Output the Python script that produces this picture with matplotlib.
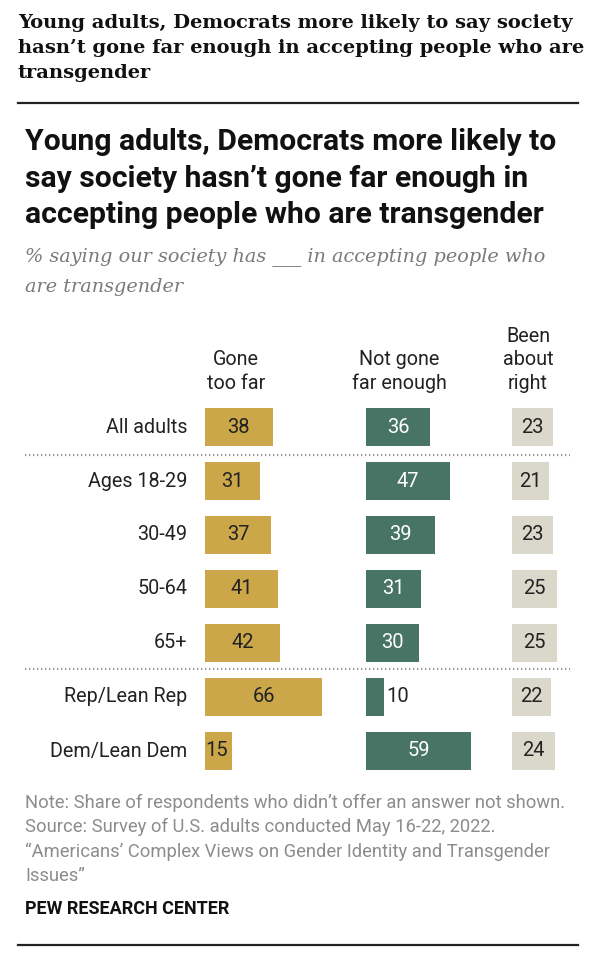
import matplotlib.pyplot as plt
from matplotlib.lines import Line2D

# data
groups = ['All adults', 'Ages 18-29', '30-49', '50-64', '65+', 'Rep/Lean Rep', 'Dem/Lean Dem']
gone_too_far = [38, 31, 37, 41, 42, 66, 15]
not_far_enough = [36, 47, 39, 31, 30, 10, 59]
about_right = [23, 21, 23, 25, 25, 22, 24]
headers = ['Gone\ntoo far', 'Not gone\nfar enough', 'Been\nabout\nright']

W, H = 593, 960
GOLD = '#CBA74A'
GREEN = '#477464'
GRAY = '#DAD8CB'
SANS = 'Roboto'


def fx(x):
    return x / W


def fy(y):
    return 1 - y / H


fig = plt.figure(figsize=(W / 100, H / 100), dpi=100)
fig.patch.set_facecolor('white')

# outer headline
fig.text(fx(18), fy(14), "Young adults, Democrats more likely to say society\n"
         "hasn\u2019t gone far enough in accepting people who are\ntransgender",
         fontsize=14, fontweight='bold', family='DejaVu Serif', va='top', ha='left',
         linespacing=1.5, color='#111111')
fig.add_artist(Line2D([fx(18), fx(578)], [fy(103), fy(103)], color='#222222', lw=1.6))

# chart title and subtitle
fig.text(fx(25), fy(128), "Young adults, Democrats more likely to\n"
         "say society hasn\u2019t gone far enough in\naccepting people who are transgender",
         fontsize=21.7, fontweight='bold', family=SANS, va='top', ha='left',
         linespacing=1.39, color='#111111')
fig.text(fx(25), fy(247), "% saying our society has ___ in accepting people who\nare transgender",
         fontsize=13.9, style='italic', family='DejaVu Serif', va='top', ha='left',
         linespacing=1.86, color='#7a7a7a')

# column axes
row_h = 54
top = 427 - row_h / 2
bottom = top + row_h * len(groups)
px_per_unit = 1.78
cols = [
    (205, 150, gone_too_far, GOLD, '#222222'),
    (366, 140, not_far_enough, GREEN, 'white'),
    (512, 60, about_right, GRAY, '#222222'),
]
ypos = list(range(len(groups)))
axes = []
for left, width, vals, color, tcolor in cols:
    ax = fig.add_axes([fx(left), fy(bottom), width / W, (bottom - top) / H])
    ax.barh(ypos, vals, height=0.70, color=color, left=0)
    ax.set_xlim(0, width / px_per_unit)
    ax.set_ylim(len(groups) - 0.5, -0.5)
    ax.axis('off')
    for i, v in enumerate(vals):
        if v < 12:
            ax.text(v + 1.5, i, str(v), ha='left', va='center', fontsize=14.5,
                    family=SANS, color='#222222')
        elif v < 20:
            ax.text(0, i, str(v), ha='left', va='center', fontsize=14.5,
                    family=SANS, color=tcolor)
        else:
            ax.text(v / 2, i, str(v), ha='center', va='center', fontsize=14.5,
                    family=SANS, color=tcolor)
    axes.append(ax)

# row labels
for i, g in enumerate(groups):
    axes[0].text(-10, i, g, ha='right', va='center', fontsize=14.2, family=SANS,
                 color='#222222')

# column headers
for (xc, yb), txt in zip([(236, 393), (399, 393), (528, 393)], headers):
    fig.text(fx(xc), fy(yb), txt, ha='center', va='bottom', fontsize=14.2, family=SANS,
             linespacing=1.31, color='#222222')

# dotted separators
for y in (455, 669):
    fig.add_artist(Line2D([fx(25), fx(570)], [fy(y), fy(y)], color='#9a9a9a', lw=1.6,
                          linestyle=(0, (0.6, 1.2))))

# notes
fig.text(fx(25), fy(794), "Note: Share of respondents who didn\u2019t offer an answer not shown.\n"
         "Source: Survey of U.S. adults conducted May 16-22, 2022.\n"
         "\u201cAmericans\u2019 Complex Views on Gender Identity and Transgender\nIssues\u201d",
         fontsize=13.2, family=SANS, va='top', ha='left', linespacing=1.43, color='#8c8c8c')
fig.text(fx(25), fy(909), "PEW RESEARCH CENTER", fontsize=13, fontweight='bold',
         family=SANS, va='center', ha='left', color='#111111')
fig.add_artist(Line2D([fx(18), fx(578)], [fy(945), fy(945)], color='#222222', lw=1.6))

fig.savefig('out.png', dpi=100, facecolor='white')
